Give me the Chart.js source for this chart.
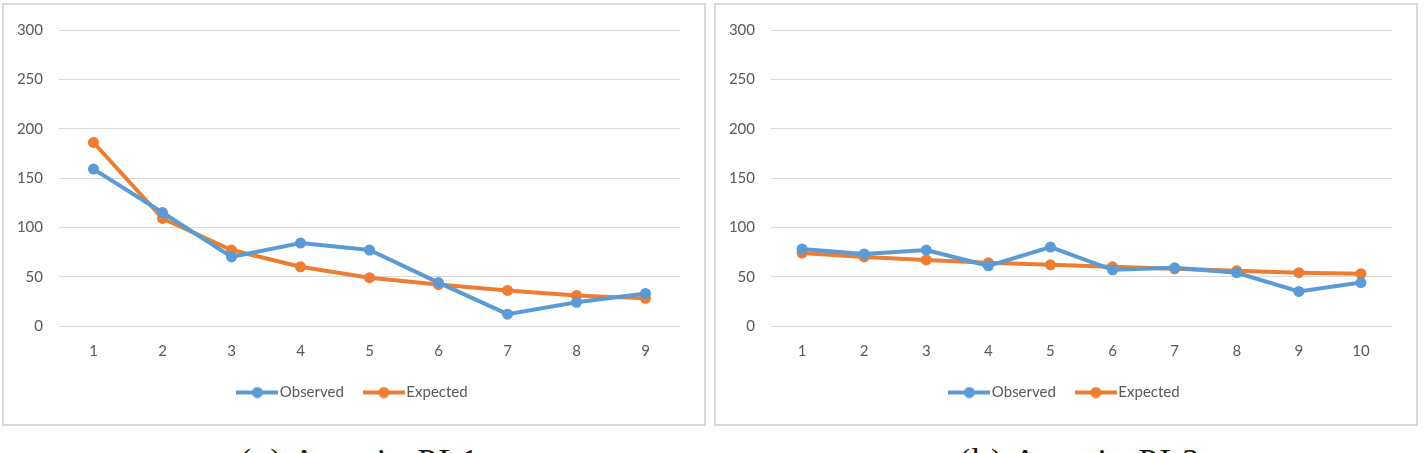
<!DOCTYPE html>
<html>
<head>
<meta charset="utf-8">
<script src="https://cdn.jsdelivr.net/npm/chart.js@4.4.1/dist/chart.umd.min.js"></script>
<style>
  html, body { margin: 0; padding: 0; background: #fff; overflow: hidden; }
  body { width: 1426px; height: 453px; position: relative; }
  .panel {
    position: absolute; top: 3px; width: 704px; height: 423px;
    box-sizing: border-box; border: 2px solid #dadada; background: #fff;
  }
  .panel canvas { display: block; }
  .caption {
    position: absolute; top: 442px; width: 704px; text-align: center;
    font-family: "Liberation Serif", "DejaVu Serif", serif; font-size: 34px;
    letter-spacing: 2px; color: #111; white-space: nowrap;
  }
</style>
</head>
<body>
<div class="panel" style="left:2px"><canvas id="chartA" width="700" height="419"></canvas></div>
<div class="panel" style="left:714px"><canvas id="chartB" width="700" height="419"></canvas></div>
<div class="caption" style="left:8px">(a) Area in PL1</div>
<div class="caption" style="left:728px">(b) Area in PL2</div>
<script>
// --- данные ---
const labelsA = ["1", "2", "3", "4", "5", "6", "7", "8", "9"];
const observedA = [159, 115, 70, 84, 77, 44, 12, 24, 33];
const expectedA = [186, 109, 77, 60, 49, 42, 36, 31, 28];

const labelsB = ["1", "2", "3", "4", "5", "6", "7", "8", "9", "10"];
const observedB = [78, 73, 77, 61, 80, 57, 59, 54, 35, 44];
const expectedB = [74, 70, 67, 64, 62, 60, 58, 56, 54, 53];

const yTicks = [0, 50, 100, 150, 200, 250, 300];

const BLUE = "#5b9bd5";
const ORANGE = "#ed7d31";
const TEXT = "#595959";
const GRID = "#d9d9d9";

// иконка легенды: линия с маркером, как в Excel
function legendIcon(color) {
  const c = document.createElement("canvas");
  c.width = 42; c.height = 12;
  const g = c.getContext("2d");
  g.strokeStyle = color; g.lineWidth = 4;
  g.beginPath(); g.moveTo(0, 6); g.lineTo(42, 6); g.stroke();
  g.fillStyle = color;
  g.beginPath(); g.arc(21, 6, 5.5, 0, Math.PI * 2); g.fill();
  return c;
}
const icons = [legendIcon(BLUE), legendIcon(ORANGE)];

// легенда в Excel центрирована по всей рамке, а не по области без правого отступа
const legendShift = {
  id: "legendShift",
  afterLayout(chart) {
    if (!chart.legend) return;
    chart.legend.left += 13;
    chart.legend.right += 13;
  }
};

function series(label, data, color) {
  return {
    label,
    data,
    borderColor: color,
    backgroundColor: color,
    borderWidth: 4,
    pointRadius: 5.5,
    pointBorderWidth: 0,
    pointBackgroundColor: color,
    tension: 0,
    fill: false
  };
}

function makeChart(id, labels, observed, expected) {
  const ctx = document.getElementById(id).getContext("2d");
  return new Chart(ctx, {
    type: "line",
    data: {
      labels,
      datasets: [
        series("Observed", observed, BLUE),
        series("Expected", expected, ORANGE)
      ]
    },
    plugins: [legendShift],
    options: {
      responsive: false,
      animation: false,
      layout: { padding: { top: 24, right: 24, left: 0, bottom: 14 } },
      font: { family: "Lato", size: 15 },
      plugins: {
        tooltip: { enabled: false },
        legend: {
          position: "bottom",
          labels: {
            color: TEXT,
            font: { family: "Lato", size: 15 },
            usePointStyle: true,
            pointStyleWidth: 30,
            boxHeight: 12,
            padding: 25,
            generateLabels(chart) {
              const items = Chart.defaults.plugins.legend.labels.generateLabels(chart);
              items.forEach((it, i) => { it.pointStyle = icons[i]; });
              return items;
            }
          }
        }
      },
      scales: {
        x: {
          offset: true,
          grid: { display: false, drawTicks: false },
          border: { display: false },
          ticks: { color: TEXT, font: { family: "Lato", size: 15 }, padding: 16, maxRotation: 0 },
          afterFit(scale) { scale.height = 34; }
        },
        y: {
          min: 0,
          max: 300,
          afterBuildTicks(scale) { scale.ticks = yTicks.map(v => ({ value: v })); },
          grid: { color: GRID, lineWidth: 1, drawTicks: false },
          border: { display: false },
          ticks: { color: TEXT, font: { family: "Lato", size: 15 }, padding: 16 },
          afterFit(scale) { scale.width = 55; }
        }
      }
    }
  });
}

makeChart("chartA", labelsA, observedA, expectedA);
makeChart("chartB", labelsB, observedB, expectedB);
</script>
</body>
</html>
